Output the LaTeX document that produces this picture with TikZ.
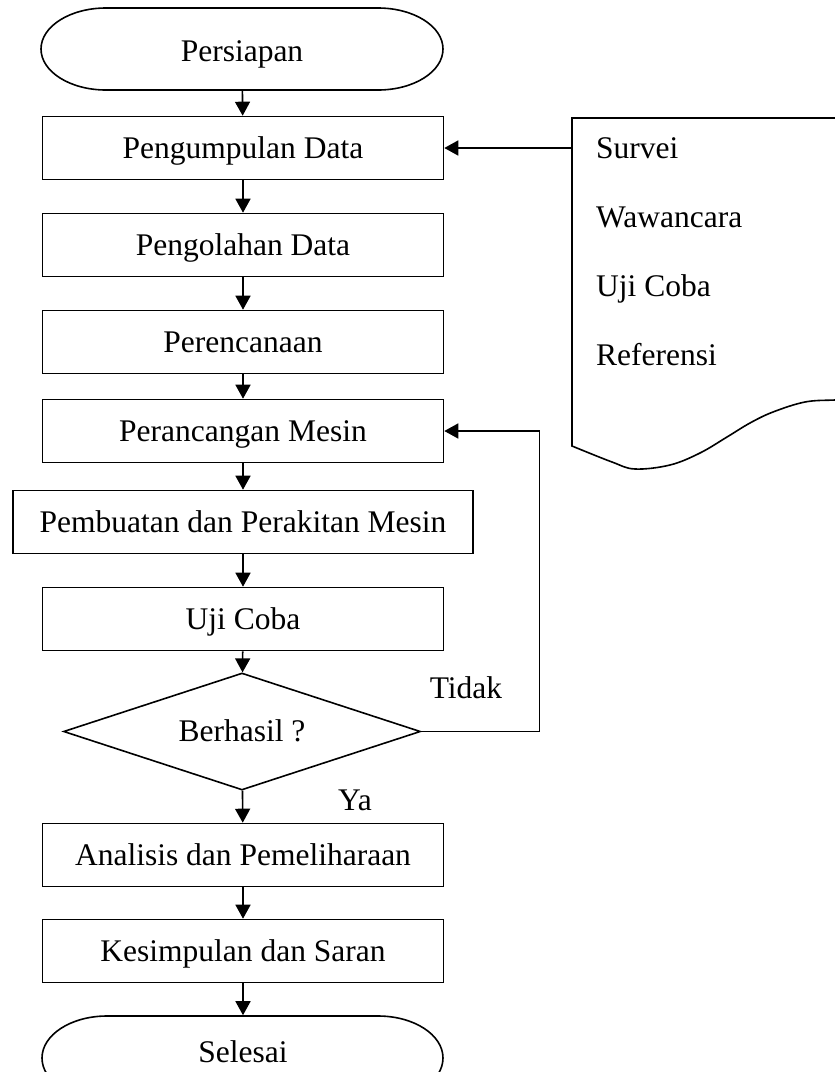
\documentclass[tikz,border=0pt]{standalone}
\usepackage{fontspec}
\setmainfont{Liberation Serif}
\usepackage{tikz}
\usetikzlibrary{arrows.meta,shapes.geometric}

\begin{document}
\begin{tikzpicture}[x=1pt, y=-1pt, line width=1.6pt,
        font=\fontsize{31.5}{38}\selectfont,
        every node/.style={text height=20.8pt, text depth=0pt},
        box/.style={rectangle, draw, minimum width=401pt, minimum height=63pt, inner sep=0pt},
        arr/.style={-{Triangle[length=14pt,width=15pt]}}]
        \clip (0,0) rectangle (835,1072);
        % terminals
        \node (1) at (242, 51) [rectangle, minimum width=402pt, minimum height=78pt] {Persiapan};
        \draw (106,8) -- (378,8) .. controls (414,8) and (443,26.4) .. (443,49)
            .. controls (443,71.6) and (414,90) .. (378,90) -- (106,90)
            .. controls (70,90) and (41,71.6) .. (41,49) .. controls (41,26.4) and (70,8) .. cycle;
        \node (2) at (243, 148) [box] {Pengumpulan Data};
        \node (3) at (243, 245) [box] {Pengolahan Data};
        \node (4) at (243, 342) [box] {Perencanaan};
        \node (5) at (243, 431) [box] {Perancangan Mesin};
        \node (6) at (243, 522) [box, minimum width=460pt] {Pembuatan dan Perakitan Mesin};
        \node (7) at (243, 619) [box] {Uji Coba};
        \node (8) at (242, 731.5) [diamond, draw, aspect=3.05, minimum width=357pt, minimum height=117pt, inner sep=0pt] {Berhasil ?};
        \node (9) at (243, 855) [box] {Analisis dan Pemeliharaan};
        \node (10) at (243, 951) [box] {Kesimpulan dan Saran};
        \node (11) at (243, 1052) [rectangle, minimum width=402pt, minimum height=72pt] {Selesai};
        \draw (107,1016) -- (378,1016) .. controls (414,1016) and (443,1034.8) .. (443,1058)
            .. controls (443,1081.2) and (414,1100) .. (378,1100) -- (107,1100)
            .. controls (71,1100) and (42,1081.2) .. (42,1058) .. controls (42,1034.8) and (71,1016) .. cycle;
        % document
        \draw (870,118) -- (572,118) -- (572,446)
            -- plot [smooth, tension=0.6] coordinates {(572,446) (612,462) (635,469) (670,465) (700,453)
            (727,437) (750,423) (773,412) (805,402) (835,400) (870,399)} -- (870,118);
        \node (s1) at (592, 158) [anchor=base west] {Survei};
        \node (s2) at (592, 227) [anchor=base west] {Wawancara};
        \node (s3) at (592, 296) [anchor=base west] {Uji Coba};
        \node (s4) at (592, 365) [anchor=base west] {Referensi};
        \coordinate (d) at (572, 148);
        \node (t) at (466, 688) {Tidak};
        \node (y) at (355, 800) {Ya};
        \draw [arr] (1) edge (2);
        \draw [arr] (2) edge (3);
        \draw [arr] (3) edge (4);
        \draw [arr] (4) edge (5);
        \draw [arr] (5) edge (6);
        \draw [arr] (6) edge (7);
        \draw [arr] (7) edge (8);
        \draw [arr] (8) edge (9);
        \draw [arr] (9) edge (10);
        \draw [arr] (10) edge (11);
        \draw [arr] (d) -- (2);
        \draw [arr] (8.east) -- ++(118,0) |- (5.east);
    \end{tikzpicture}
\end{document}
